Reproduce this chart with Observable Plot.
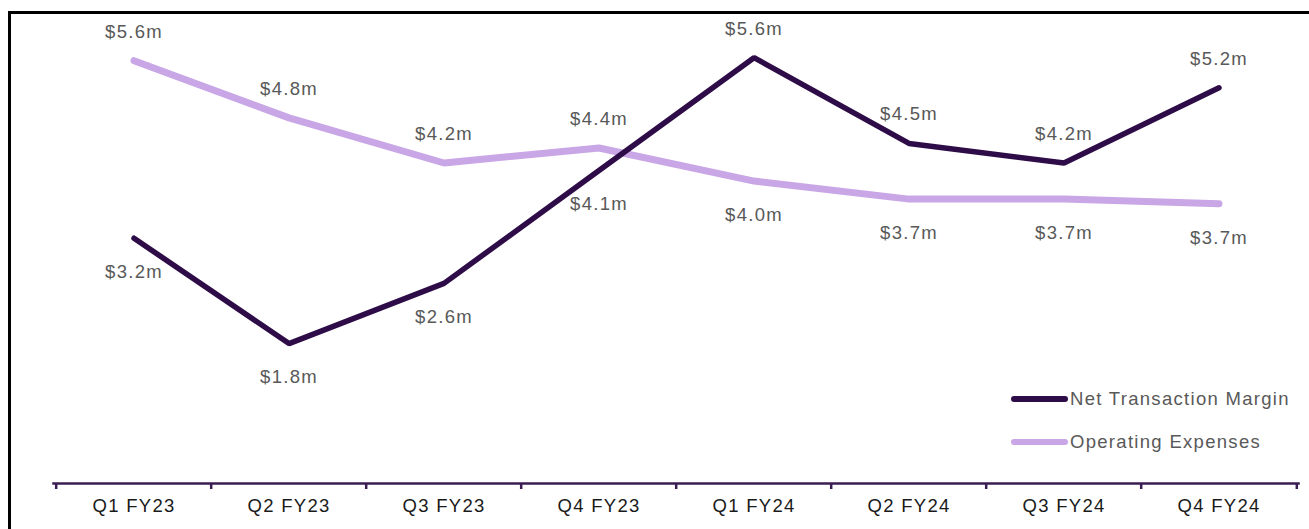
<!DOCTYPE html>
<html>
<head>
<meta charset="utf-8">
<script src="https://cdn.jsdelivr.net/npm/d3@7"></script>
<script src="https://cdn.jsdelivr.net/npm/@observablehq/plot@0.6"></script>
<style>
  html, body { margin: 0; padding: 0; background: #fff; overflow: hidden; }
  body { width: 1309px; height: 529px; position: relative; font-family: "Liberation Sans", Arial, sans-serif; }
  #frame { position: absolute; left: 8px; top: 11px; width: 1400px; height: 600px; border: 3px solid #000; box-sizing: border-box; }
  #chart { position: absolute; left: 0; top: 0; }
  #chart text { letter-spacing: 1.3px; }
  #legend { position: absolute; left: 1011px; top: 386px; font-size: 18.5px; letter-spacing: 1.3px; color: #595959; }
  .row { display: flex; align-items: center; height: 26px; margin-bottom: 17px; white-space: nowrap; }
  .sw { width: 57px; height: 8px; margin-right: 2px; }
</style>
</head>
<body>
<div id="frame"></div>
<div id="chart"></div>
<div id="legend"></div>
<script>
const quarters = ["Q1 FY23", "Q2 FY23", "Q3 FY23", "Q4 FY23", "Q1 FY24", "Q2 FY24", "Q3 FY24", "Q4 FY24"];
const netTransactionMargin = [3.2, 1.8, 2.6, 4.1, 5.6, 4.46, 4.2, 5.2];
const operatingExpenses = [5.56, 4.8, 4.2, 4.4, 3.96, 3.72, 3.72, 3.66];
const seriesNames = ["Net Transaction Margin", "Operating Expenses"];
const seriesColors = ["#2d0c48", "#c9a6e6"];

const W = 1309, H = 529;
const mL = 53, mR = 11, mB = 46;
const bw = (W - mL - mR) / quarters.length;

const rows = [];
quarters.forEach((q, i) => {
  rows.push({q, s: seriesNames[0], v: netTransactionMargin[i], other: operatingExpenses[i]});
  rows.push({q, s: seriesNames[1], v: operatingExpenses[i], other: netTransactionMargin[i]});
});

// y scale: pixel range so that 0 sits just above the category axis
const yTop = 6.36, yRange = [478.5, 0];
const pxToY = py => yTop * (yRange[0] - py) / yRange[0];

const chart = Plot.plot({
  width: W,
  height: H,
  marginLeft: mL,
  marginRight: mR,
  marginTop: 0,
  marginBottom: mB,
  style: {fontFamily: "'Liberation Sans', Arial, sans-serif", background: "transparent", overflow: "visible"},
  x: {type: "band", domain: quarters, padding: 0, axis: null, label: null},
  y: {domain: [0, yTop], range: yRange, axis: null},
  color: {domain: seriesNames, range: seriesColors},
  marks: [
    Plot.frame({anchor: "bottom", stroke: "#3a1d52", strokeWidth: 2.5}),
    Plot.ruleX(quarters, {x: d => d, dx: -bw / 2, y1: pxToY(H - mB), y2: pxToY(H - mB + 6), stroke: "#3a1d52", strokeWidth: 2.5, clip: false}),
    Plot.ruleX([quarters[quarters.length - 1]], {x: d => d, dx: bw / 2, y1: pxToY(H - mB), y2: pxToY(H - mB + 6), stroke: "#3a1d52", strokeWidth: 2.5, clip: false}),
    Plot.axisX({anchor: "bottom", label: null, tickSize: 0, tickPadding: 15, fontSize: 18.5, color: "#1a1a1a"}),
    Plot.line(rows.filter(d => d.s === seriesNames[1]), {x: "q", y: "v", stroke: "s", strokeWidth: 7, strokeLinecap: "round", strokeLinejoin: "round"}),
    Plot.line(rows.filter(d => d.s === seriesNames[0]), {x: "q", y: "v", stroke: "s", strokeWidth: 5.5, strokeLinecap: "round", strokeLinejoin: "miter"}),
    Plot.text(rows.filter(d => d.v > d.other), {x: "q", y: "v", text: d => `$${d.v.toFixed(1)}m`, dy: -29, fill: "#595959", fontSize: 18.5}),
    Plot.text(rows.filter(d => d.v <= d.other), {x: "q", y: "v", text: d => `$${d.v.toFixed(1)}m`, dy: 34, fill: "#595959", fontSize: 18.5})
  ]
});
document.getElementById("chart").appendChild(chart);

const legend = document.getElementById("legend");
seriesNames.forEach((name, i) => {
  const row = document.createElement("div");
  row.className = "row";
  row.innerHTML = `<svg class="sw" width="57" height="8"><line x1="3" y1="4" x2="54" y2="4" stroke="${seriesColors[i]}" stroke-width="6" stroke-linecap="round"/></svg><span>${name}</span>`;
  legend.appendChild(row);
});
</script>
</body>
</html>
